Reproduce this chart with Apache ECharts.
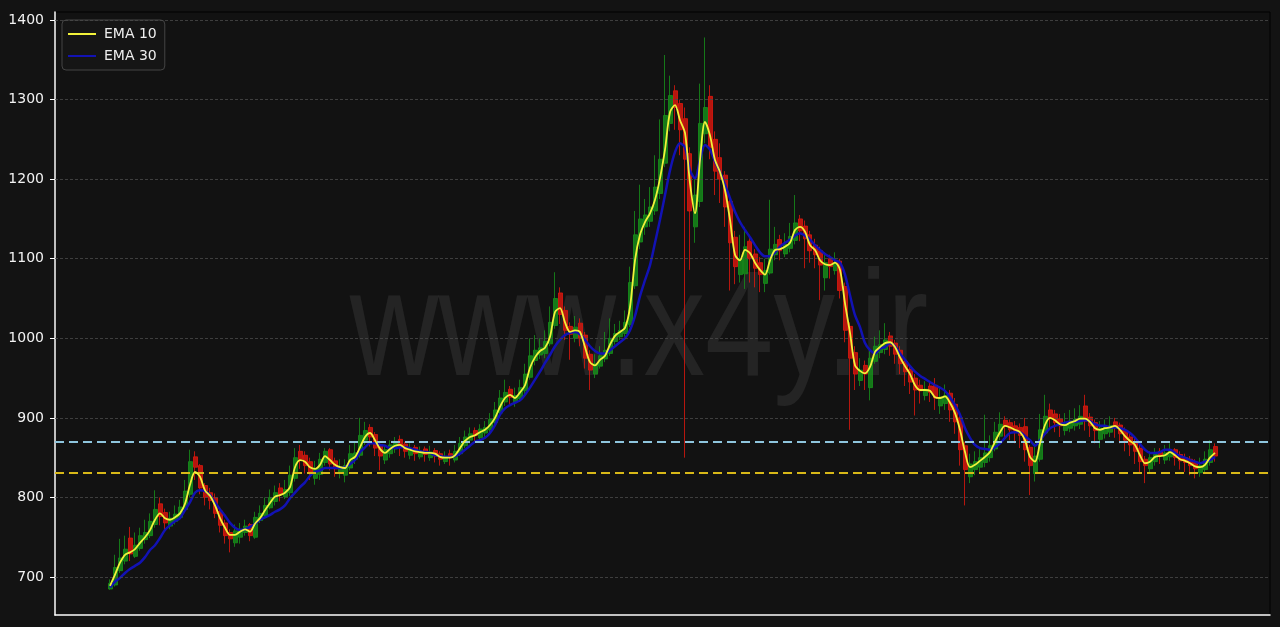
<!DOCTYPE html>
<html><head><meta charset="utf-8">
<script src="https://cdn.jsdelivr.net/npm/echarts@6/dist/echarts.min.js"></script>
<style>html,body{margin:0;padding:0;background:#131313;}#c{width:1280px;height:627px;}</style>
</head><body><div id="c"></div>
<script>
// [open, close, low, high]
const ohlc = [
[685,692,684,697],[690,712,688,728],[708,724,705,748],[720,735,716,752],[749,729,720,763],
[726,740,724,756],[736,752,733,762],[747,756,742,772],[752,770,749,780],[766,785,762,809],
[792,776,765,800],[781,768,758,786],[764,774,760,782],[770,779,766,790],[775,788,772,797],
[785,808,782,822],[804,845,800,860],[851,838,822,858],[840,812,804,842],[815,800,790,818],
[806,796,785,812],[800,780,774,805],[783,765,756,786],[768,752,742,772],[756,748,731,760],
[743,758,738,766],[750,760,742,768],[756,764,752,772],[766,752,745,768],[750,775,748,782],
[771,780,768,790],[777,790,774,800],[787,800,785,810],[795,806,790,815],[812,804,795,818],
[801,810,798,822],[806,828,802,840],[824,850,820,862],[858,848,836,866],[853,840,830,858],
[845,832,822,850],[824,836,816,846],[829,848,822,856],[844,858,840,862],[860,842,834,862],
[846,836,826,850],[830,838,824,848],[828,840,819,848],[837,855,834,866],[848,856,842,870],
[853,878,850,900],[872,884,866,895],[888,876,864,892],[879,862,852,882],[865,852,834,868],
[847,860,842,866],[855,866,850,872],[861,868,856,876],[873,864,852,878],[867,858,850,870],
[853,860,848,868],[863,855,846,866],[851,858,848,864],[861,854,845,864],[850,857,846,865],
[859,852,844,862],[855,848,840,858],[845,851,842,858],[855,850,840,860],[847,858,844,866],
[855,868,852,876],[865,876,862,884],[872,880,868,888],[884,878,870,888],[875,886,872,892],
[881,888,876,896],[885,898,882,906],[894,910,890,920],[906,925,902,935],[920,932,915,948],
[936,926,916,940],[920,928,914,938],[924,938,920,948],[934,955,930,968],[951,978,948,1000],
[972,985,966,1004],[979,988,974,1000],[981,996,975,1010],[993,1020,990,1040],[1016,1050,1012,1083],
[1057,1030,1018,1064],[1035,1010,998,1040],[1015,1005,973,1020],[1000,1014,995,1028],[1019,1000,990,1025],
[1004,975,962,1008],[980,960,935,985],[955,968,950,980],[965,978,962,990],[974,985,970,1008],
[981,1000,978,1025],[996,1006,992,1018],[1002,1010,998,1022],[1006,1020,1002,1035],[1017,1070,1014,1090],
[1066,1130,1062,1160],[1121,1150,1112,1193],[1140,1155,1130,1175],[1147,1165,1140,1190],[1160,1190,1155,1230],
[1182,1225,1175,1275],[1220,1280,1215,1356],[1270,1305,1260,1330],[1311,1290,1262,1318],[1295,1262,1230,1300],
[1276,1225,850,1290],[1232,1160,1086,1240],[1140,1180,1120,1200],[1172,1270,1165,1320],[1257,1290,1245,1378],
[1304,1240,1225,1318],[1250,1210,1180,1260],[1227,1200,1170,1245],[1205,1165,1140,1210],[1172,1120,1060,1180],
[1127,1090,1068,1135],[1080,1100,1070,1130],[1081,1115,1062,1140],[1122,1100,1070,1130],[1106,1088,1064,1112],
[1095,1080,1058,1102],[1069,1085,1058,1100],[1082,1112,1080,1174],[1105,1118,1098,1140],[1124,1110,1098,1130],
[1106,1118,1102,1132],[1113,1128,1108,1145],[1123,1145,1118,1180],[1150,1135,1122,1155],[1141,1125,1088,1148],
[1130,1110,1095,1135],[1117,1105,1088,1125],[1110,1092,1048,1115],[1076,1095,1060,1108],[1100,1090,1075,1105],
[1085,1094,1080,1108],[1097,1060,1050,1100],[1065,1010,995,1070],[1015,975,885,1020],[982,955,935,990],
[947,960,940,975],[966,955,935,972],[938,975,922,985],[971,990,968,1002],[982,992,975,1010],
[986,998,980,1019],[1003,990,978,1008],[994,980,968,998],[985,968,955,990],[971,958,940,975],
[961,945,930,965],[950,935,903,955],[941,934,918,948],[928,936,922,946],[940,932,920,945],
[941,925,910,950],[915,926,905,940],[918,928,910,942],[931,910,895,935],[917,895,880,925],
[900,860,840,905],[865,835,790,870],[826,842,818,855],[835,845,828,858],[838,850,832,862],
[844,856,838,904],[850,865,845,878],[861,882,858,895],[877,892,872,907],[897,890,876,902],
[894,885,872,898],[890,884,868,896],[888,878,862,893],[889,860,845,900],[863,840,803,866],
[830,852,820,868],[848,885,845,905],[881,902,878,929],[910,900,886,918],[905,894,882,910],
[899,890,876,905],[884,893,878,906],[887,896,882,910],[890,898,884,912],[892,902,886,916],
[915,896,884,929],[901,890,876,906],[894,884,868,898],[873,887,862,896],[880,888,874,898],
[882,890,876,902],[895,888,875,900],[891,880,868,894],[884,872,858,888],[876,866,852,880],
[870,858,842,875],[862,845,830,866],[848,840,818,852],[836,850,832,858],[845,854,840,862],
[858,853,842,862],[847,856,842,866],[851,858,846,868],[860,850,840,862],[854,846,835,858],
[850,844,832,855],[848,840,828,852],[844,836,824,848],[831,840,826,850],[835,848,830,858],
[844,860,840,872],[864,852,845,868]
];
const ema10 = [
689,703,718,728,731,735,743,750,759,772,
780,774,772,775,780,792,816,832,826,809,
802,790,774,762,753,753,757,760,757,767,
774,784,793,801,803,806,813,838,847,845,
838,836,841,852,847,841,838,837,847,851,
863,876,881,872,861,856,861,865,866,862,
860,858,857,856,856,855,851,850,850,853,
862,871,876,878,882,885,891,900,914,925,
929,925,932,941,963,976,984,988,1002,1033,
1038,1020,1008,1010,1008,989,970,966,973,978,
992,1003,1008,1013,1039,1098,1130,1146,1157,1174,
1201,1237,1284,1293,1274,1258,1195,1157,1224,1272,
1255,1224,1209,1186,1149,1105,1098,1111,1107,1095,
1086,1080,1098,1111,1112,1115,1120,1136,1140,1134,
1117,1111,1098,1093,1092,1095,1086,1044,1007,966,
959,956,964,983,989,994,995,989,976,965,
955,941,935,935,934,926,925,927,919,906,
885,857,838,841,846,851,857,870,882,890,
888,885,882,872,851,845,868,891,900,897,
892,891,894,896,899,899,895,887,885,887,
888,890,885,877,871,866,853,843,845,851,
852,853,857,853,848,846,843,839,838,841,
850,856
];
const ema30 = [
687,694,699,705,710,714,718,725,734,740,
749,759,765,770,774,784,794,806,809,808,
803,794,785,777,768,762,759,760,763,767,
772,775,778,782,785,790,799,806,813,819,
827,832,834,837,837,837,837,838,842,847,
857,863,868,868,866,865,862,862,863,863,
862,860,858,857,856,853,852,851,851,852,
855,860,865,870,872,875,881,891,904,912,
916,919,922,929,938,948,958,969,979,990,
998,1004,1007,1008,1005,998,990,984,981,981,
985,990,995,1000,1010,1028,1053,1073,1092,1120,
1149,1180,1211,1234,1245,1240,1211,1201,1224,1243,
1237,1222,1209,1193,1176,1159,1146,1136,1127,1117,
1108,1103,1103,1108,1115,1120,1124,1129,1132,1129,
1124,1117,1111,1106,1102,1098,1095,1080,1054,1029,
1014,994,985,981,987,989,994,990,981,973,
965,958,953,949,945,941,938,934,926,916,
904,887,875,866,862,861,860,863,868,875,
881,882,882,877,872,865,872,880,887,890,
892,894,895,895,896,897,896,892,890,890,
888,888,887,885,881,875,867,860,856,856,
857,860,860,856,852,850,847,845,843,845,
847,851
];
const yTicks = [700, 800, 900, 1000, 1100, 1200, 1300, 1400];
const levelBlue = 869.5;
const levelGold = 830.5;
const seriesNames = ['EMA 10', 'EMA 30'];
const watermark = 'www.x4y.ir';

const PAD = 11;
const n = ohlc.length;
const cats = [];
for (let i = 0; i < n + 2 * PAD; i++) cats.push(String(i));
const padArr = (a, empty) => Array(PAD).fill(empty).concat(a, Array(PAD).fill(empty));

const chart = echarts.init(document.getElementById('c'));
chart.setOption({
  backgroundColor: '#131313',
  animation: false,
  textStyle: { fontFamily: 'DejaVu Sans' },
  grid: { left: 55, right: 10, top: 12, bottom: 12, show: true, backgroundColor: '#121212', borderColor: '#000', borderWidth: 1 },
  legend: {
    data: seriesNames.map(s => ({ name: s, icon: 'rect' })), orient: 'vertical', left: 62, top: 20,
    backgroundColor: '#151515', borderColor: '#444', borderWidth: 1, borderRadius: 4,
    padding: [7, 8, 7, 6], itemGap: 8, itemWidth: 28, itemHeight: 2,
    textStyle: { color: '#eeeeee', fontSize: 14, fontFamily: 'DejaVu Sans', padding: [0, 0, 0, 3] }
  },
  graphic: [{
    type: 'text', x: 639, y: 334, scaleY: 1.22, z: 1, silent: true,
    style: { text: watermark, font: '123px "Liberation Sans"', fill: 'rgba(255,255,255,0.08)', textAlign: 'center', textVerticalAlign: 'middle' }
  }],
  xAxis: {
    type: 'category', data: cats, boundaryGap: false,
    axisLine: { show: true, onZero: false, lineStyle: { color: '#ffffff', width: 1.5 } },
    axisTick: { show: false }, axisLabel: { show: false }, splitLine: { show: false }
  },
  yAxis: {
    type: 'value', min: 652.3, max: 1410, position: 'left',
    axisLine: { show: true, lineStyle: { color: '#ffffff', width: 1.5 } },
    axisTick: { show: true, length: 5, lineStyle: { color: '#ffffff' }, customValues: yTicks },
    axisLabel: { color: '#f2f2f2', fontSize: 14, margin: 11, customValues: yTicks, formatter: v => String(Math.round(v)) },
    splitLine: { show: false }
  },
  series: [
    {
      name: 'gridlines', type: 'line', data: padArr(ema10.map(() => '-'), '-'), z: 1, silent: true,
      markLine: {
        silent: true, symbol: 'none', label: { show: false },
        lineStyle: { color: '#4a4a4a', type: [3, 2], width: 0.8 },
        data: yTicks.map(v => ({ yAxis: v }))
      }
    },
    {
      name: 'price', type: 'candlestick', data: padArr(ohlc, ['-', '-', '-', '-']), z: 2,
      barWidth: 4.5,
      itemStyle: { color: '#17921a', color0: '#e0180e', borderColor: '#17921a', borderColor0: '#e0180e', borderWidth: 1, opacity: 0.8 }
    },
    {
      name: 'levels', type: 'line', data: padArr(ema10.map(() => '-'), '-'), z: 3, silent: true,
      markLine: {
        silent: true, symbol: 'none', label: { show: false },
        data: [
          { yAxis: levelBlue, lineStyle: { color: '#8ec5dd', type: [9, 5], width: 2 } },
          { yAxis: levelGold, lineStyle: { color: '#d8b818', type: [9, 5], width: 2 } }
        ]
      }
    },
    {
      name: 'EMA 30', type: 'line', data: padArr(ema30, '-'), symbol: 'none', smooth: 0.3, z: 4,
      lineStyle: { color: '#1212b4', width: 2.5 }, itemStyle: { color: '#1212b4' }
    },
    {
      name: 'EMA 10', type: 'line', data: padArr(ema10, '-'), symbol: 'none', smooth: 0.3, z: 5,
      lineStyle: { color: '#f2f23a', width: 1.8 }, itemStyle: { color: '#f2f23a' }
    }
  ]
});
</script>
</body></html>
